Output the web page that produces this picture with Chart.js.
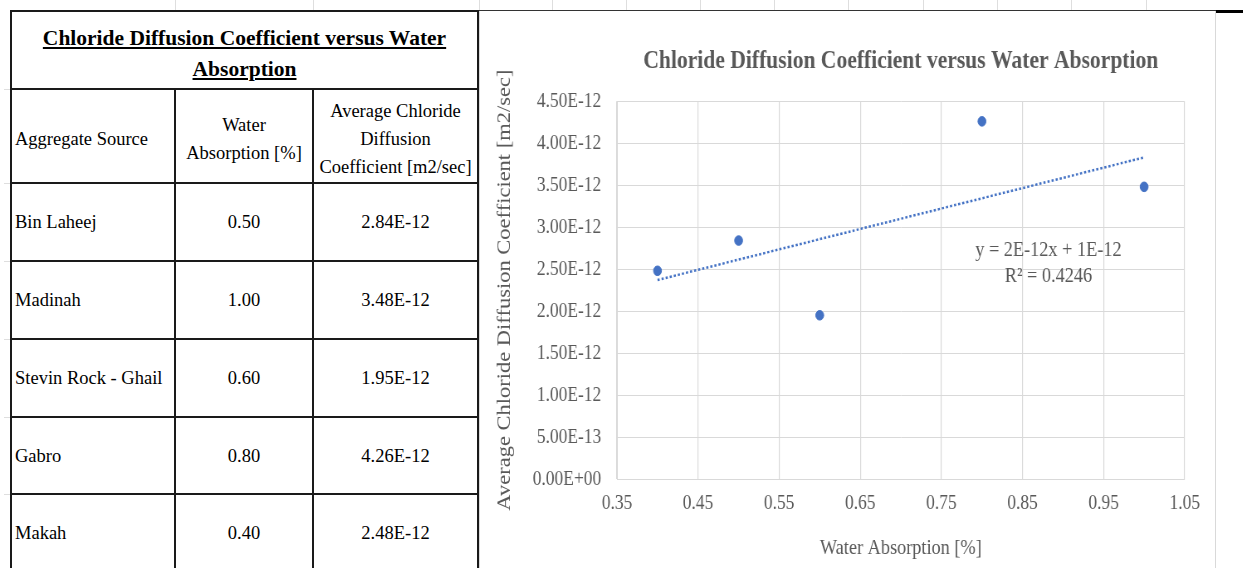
<!DOCTYPE html>
<html>
<head>
<meta charset="utf-8">
<script src="https://cdn.jsdelivr.net/npm/chart.js@4.4.1/dist/chart.umd.min.js"></script>
<style>
  body {
    margin: 0;
    width: 1243px;
    height: 568px;
    overflow: hidden;
    background: #ffffff;
    position: relative;
    font-family: "Liberation Serif", "Times New Roman", serif;
  }
  .marca { position: absolute; background: #dedede; }
  #lineaSuperior { position: absolute; left: 10px; top: 10px; width: 1206px; height: 1px; background: #333; }
  #lineaGruesa { position: absolute; left: 1216px; top: 10px; width: 27px; height: 3px; background: #000; }
  .bordeGrafico { position: absolute; top: 11px; width: 1px; height: 557px; background: #d9d9d9; }
  #tabla {
    position: absolute;
    left: 10px;
    top: 10px;
    width: 467px;
    border-collapse: collapse;
    table-layout: fixed;
    color: #000;
  }
  #tabla td {
    border: 2px solid #1a1a1a;
    font-size: 18.5px;
    line-height: 28px;
    padding: 0 3px;
    vertical-align: middle;
  }
  #tabla .encabezado td { padding-top: 5px; }
  #tabla .titulo {
    text-align: center;
    font-weight: bold;
    font-size: 21.5px;
    line-height: 31px;
    text-decoration: underline;
    padding-top: 7px;
  }
  #tabla .centro { text-align: center; }
  #contenedorGrafico {
    position: absolute;
    left: 480px;
    top: 12px;
    width: 886px;
    height: 556px;
    transform: scaleX(0.83);
    transform-origin: 0 0;
  }
</style>
</head>
<body>
<div id="lineaSuperior"></div>
<div id="lineaGruesa"></div>
<div class="bordeGrafico" style="left:479px"></div>
<div class="bordeGrafico" style="left:1215px"></div>

<table id="tabla">
  <colgroup><col style="width:164px"><col style="width:138px"><col style="width:165px"></colgroup>
  <tbody id="cuerpoTabla">
    <tr style="height:78px">
      <td class="titulo" colspan="3">Chloride Diffusion Coefficient versus Water<br>Absorption</td>
    </tr>
    <tr class="encabezado" style="height:94px">
      <td>Aggregate Source</td>
      <td class="centro">Water<br>Absorption [%]</td>
      <td class="centro">Average Chloride<br>Diffusion<br>Coefficient [m2/sec]</td>
    </tr>
  </tbody>
</table>

<div id="contenedorGrafico">
  <canvas id="graficoCloruros" width="886" height="556"></canvas>
</div>

<script>
const fuentes = ["Bin Laheej", "Madinah", "Stevin Rock - Ghail", "Gabro", "Makah"];
const absorcionAgua = [0.50, 1.00, 0.60, 0.80, 0.40];
const difusionCloruros = [2.84e-12, 3.48e-12, 1.95e-12, 4.26e-12, 2.48e-12];

// extremos de la linea de tendencia
const tendenciaX = [0.40, 1.00];
const tendenciaY = [2.37e-12, 3.83e-12];

const ticksX = [0.35, 0.45, 0.55, 0.65, 0.75, 0.85, 0.95, 1.05];
const ticksY = [0, 0.5e-12, 1.0e-12, 1.5e-12, 2.0e-12, 2.5e-12, 3.0e-12, 3.5e-12, 4.0e-12, 4.5e-12];

const textoEcuacion = "y = 2E-12x + 1E-12";
const textoR2 = "R² = 0.4246";

const FAMILIA = '"Liberation Serif", "Times New Roman", serif';
const GRIS_TEXTO = "#595959";
const AZUL = "#4472c4";

function formatoCientifico(valor) {
  const [mantisa, exponente] = valor.toExponential(2).split("e");
  const exp = parseInt(exponente, 10);
  return `${mantisa}E${exp < 0 ? "-" : "+"}${String(Math.abs(exp)).padStart(2, "0")}`;
}

function llenarTabla() {
  const cuerpo = document.getElementById("cuerpoTabla");
  const alturas = [78, 78, 78, 77, 78];

  fuentes.forEach((fuente, i) => {
    const fila = document.createElement("tr");
    fila.style.height = `${alturas[i]}px`;
    fila.innerHTML = `
      <td>${fuente}</td>
      <td class="centro">${absorcionAgua[i].toFixed(2)}</td>
      <td class="centro">${formatoCientifico(difusionCloruros[i])}</td>
    `;
    cuerpo.appendChild(fila);
  });
}

function dibujarMarcas() {
  [175, 313, 479, 552, 626, 700, 774, 848, 923, 997, 1071, 1146].forEach((x) => {
    const m = document.createElement("div");
    m.className = "marca";
    m.style.cssText = `left:${x}px;top:0;width:1px;height:10px`;
    document.body.appendChild(m);
  });
  [89, 183, 261, 339, 417, 494].forEach((y) => {
    const m = document.createElement("div");
    m.className = "marca";
    m.style.cssText = `left:4px;top:${y}px;width:6px;height:1px`;
    document.body.appendChild(m);
  });
}

const etiquetaEcuacion = {
  id: "etiquetaEcuacion",
  afterDatasetsDraw(chart) {
    const { ctx, scales } = chart;
    const px = scales.x.getPixelForValue(0.882);
    const py = scales.y.getPixelForValue(2.726e-12);

    ctx.save();
    ctx.font = `22px ${FAMILIA}`;
    ctx.fillStyle = GRIS_TEXTO;
    ctx.textAlign = "center";
    ctx.textBaseline = "middle";
    ctx.fillText(textoEcuacion, px, py);
    ctx.fillText(textoR2, px, py + 26);
    ctx.restore();
  },
};

function crearGrafico() {
  const puntos = absorcionAgua.map((x, i) => ({ x, y: difusionCloruros[i] }));
  const tendencia = tendenciaX.map((x, i) => ({ x, y: tendenciaY[i] }));

  new Chart(document.getElementById("graficoCloruros"), {
    type: "scatter",
    data: {
      datasets: [
        {
          label: "Datos",
          data: puntos,
          backgroundColor: AZUL,
          borderColor: AZUL,
          pointRadius: 4.8,
          pointHoverRadius: 4.8,
          order: 1,
        },
        {
          type: "line",
          label: "Tendencia",
          data: tendencia,
          borderColor: AZUL,
          borderWidth: 2.5,
          borderDash: [2.6, 2.4],
          pointRadius: 0,
          fill: false,
          order: 2,
        },
      ],
    },
    options: {
      responsive: false,
      animation: false,
      layout: {
        padding: { left: 17, right: 37, top: 0, bottom: 7 },
      },
      plugins: {
        legend: { display: false },
        tooltip: { enabled: false },
        title: {
          display: true,
          text: "Chloride Diffusion Coefficient versus Water Absorption",
          color: GRIS_TEXTO,
          fullSize: false,
          font: { family: FAMILIA, size: 26, weight: "bold" },
          padding: { top: 34, bottom: 24 },
        },
      },
      scales: {
        x: {
          type: "linear",
          min: 0.35,
          max: 1.05,
          afterBuildTicks: (escala) => {
            escala.ticks = ticksX.map((v) => ({ value: v }));
          },
          afterFit: (escala) => {
            escala.height = 82;
            escala.paddingLeft = 0;
            escala.paddingRight = 0;
          },
          ticks: {
            color: GRIS_TEXTO,
            font: { family: FAMILIA, size: 21 },
            padding: 12,
            maxRotation: 0,
            autoSkip: false,
            callback: (valor) => Number(valor).toFixed(2),
          },
          grid: { color: "#d9d9d9", lineWidth: 1.2, drawTicks: false },
          border: { color: "#d9d9d9" },
          title: {
            display: true,
            text: "Water Absorption [%]",
            color: GRIS_TEXTO,
            font: { family: FAMILIA, size: 22 },
            padding: 0,
          },
        },
        y: {
          type: "linear",
          min: 0,
          max: 4.5e-12,
          afterBuildTicks: (escala) => {
            escala.ticks = ticksY.map((v) => ({ value: v }));
          },
          afterFit: (escala) => {
            escala.width = 148;
            escala.paddingTop = 0;
            escala.paddingBottom = 0;
          },
          ticks: {
            color: GRIS_TEXTO,
            font: { family: FAMILIA, size: 21 },
            padding: 19,
            callback: (valor) => formatoCientifico(Number(valor)),
          },
          grid: { color: "#d9d9d9", lineWidth: 1, drawTicks: false },
          border: { color: "#d9d9d9" },
          title: {
            display: true,
            text: "Average Chloride Diffusion Coefficient [m2/sec]",
            color: GRIS_TEXTO,
            font: { family: FAMILIA, size: 22.5 },
            padding: 0,
          },
        },
      },
    },
    plugins: [etiquetaEcuacion],
  });
}

llenarTabla();
dibujarMarcas();
crearGrafico();
</script>
</body>
</html>
